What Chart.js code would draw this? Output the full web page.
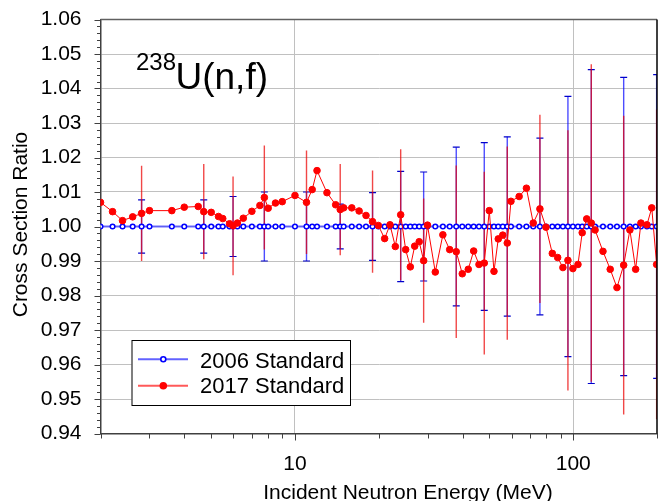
<!DOCTYPE html>
<html>
<head>
<meta charset="utf-8">
<script src="https://cdn.jsdelivr.net/npm/chart.js@4"></script>
<style>
html,body{margin:0;padding:0;background:#fff;}
canvas{display:block;}
</style>
</head>
<body>
<canvas id="c" width="659" height="501"></canvas>
<script>
// ---- data ----
const energies = [2.00, 2.21, 2.40, 2.61, 2.81, 3.00, 3.61, 4.00, 4.49, 4.70,
  5.00, 5.31, 5.50, 5.82, 5.99, 6.21, 6.52, 7.00, 7.48, 7.76,
  8.01, 8.51, 9.00, 10.0, 11.0, 11.53, 12.0, 13.03, 14.0, 14.54,
  14.96, 16.0, 17.0, 18.0, 19.0, 19.93, 21.0, 21.95, 22.94, 23.98,
  24.99, 25.97, 26.93, 27.95, 29.0, 29.93, 31.93, 34.0, 35.97, 37.98,
  39.92, 41.95, 43.87, 45.84, 47.89, 49.92, 51.9, 53.77, 55.81, 57.93,
  59.73, 63.91, 67.88, 71.82, 75.9, 79.8, 84.1, 87.9, 91.8, 95.7,
  99.7, 104.0, 107.7, 111.8, 116.1, 119.8, 127.9, 135.8, 143.6, 151.8,
  159.8, 167.6, 175.1, 184.0, 191.5, 199.4];

const ratio2017 = [1.0070, 1.0043, 1.0017, 1.0028, 1.0038, 1.0046, 1.0046, 1.0056, 1.0058, 1.0043,
  1.0041, 1.0029, 1.0023, 1.0008, 1.0002, 1.0010, 1.0024, 1.0044, 1.0061, 1.0084,
  1.0053, 1.0068, 1.0072, 1.0090, 1.0070, 1.0107, 1.0162, 1.0098, 1.0063, 1.0049,
  1.0054, 1.0054, 1.0045, 1.0032, 1.0014, 1.0003, 0.9965, 1.0005, 0.9942, 1.0034,
  0.9933, 0.9883, 0.9943, 0.9956, 0.9901, 1.0004, 0.9868, 0.9976, 0.9933, 0.9927,
  0.9863, 0.9876, 0.9929, 0.9890, 0.9894, 1.0046, 0.9870, 0.9964, 0.9975, 0.9952,
  1.0073, 1.0087, 1.0111, 1.0010, 1.0051, 0.9998, 0.9922, 0.9910, 0.9881, 0.9902,
  0.9878, 0.9890, 0.9982, 1.0022, 1.0010, 0.9990, 0.9928, 0.9876, 0.9823, 0.9888,
  0.9990, 0.9876, 1.0010, 1.0005, 1.0054, 0.9890];

const ratio2006 = [1.000, 1.000, 1.000, 1.000, 1.000, 1.000, 1.000, 1.000, 1.000, 1.000,
  1.000, 1.000, 1.000, 1.000, 1.000, 1.000, 1.000, 1.000, 1.000, 1.000,
  1.000, 1.000, 1.000, 1.000, 1.000, 1.000, 1.000, 1.000, 1.000, 1.000,
  1.000, 1.000, 1.000, 1.000, 1.000, 1.000, 1.000, 1.000, 1.000, 1.000,
  1.000, 1.000, 1.000, 1.000, 1.000, 1.000, 1.000, 1.000, 1.000, 1.000,
  1.000, 1.000, 1.000, 1.000, 1.000, 1.000, 1.000, 1.000, 1.000, 1.000,
  1.000, 1.000, 1.000, 1.000, 1.000, 1.000, 1.000, 1.000, 1.000, 1.000,
  1.000, 1.000, 1.000, 1.000, 1.000, 1.000, 1.000, 1.000, 1.000, 1.000,
  1.000, 1.000, 1.000, 1.000, 1.000, 1.000];

// points (0-based index into energies) that carry error bars
const errorPointIndex = [4, 9, 14, 19, 24, 29, 34, 39, 44, 49, 54, 59, 64, 69, 74, 79, 85];
const error2017 = [0.0138, 0.0138, 0.0143, 0.0151, 0.0150, 0.0132, 0.0148, 0.0190, 0.0180, 0.0250,
  0.0265, 0.0280, 0.0273, 0.0377, 0.0460, 0.0433, 0.0449];
const error2006 = [0.0077, 0.0077, 0.0087, 0.0100, 0.0100, 0.0065, 0.0098, 0.0160, 0.0158, 0.0230,
  0.0243, 0.0260, 0.0256, 0.0377, 0.0455, 0.0432, 0.0440];

const xTickValues = [2, 3, 4, 5, 6, 7, 8, 9, 10, 20, 30, 40, 50, 60, 70, 80, 90, 100, 200];
const xLabeledTicks = [10, 100];
const yTickValues = [0.94, 0.95, 0.96, 0.97, 0.98, 0.99, 1.00, 1.01, 1.02, 1.03, 1.04, 1.05, 1.06];

const seriesNames = ['2006 Standard', '2017 Standard'];
const titleMass = '238';
const titleReaction = 'U(n,f)';
const xTitle = 'Incident Neutron Energy (MeV)';
const yTitle = 'Cross Section Ratio';

// ---- styling ----
const FONT = '"Liberation Sans", Arial, Helvetica, sans-serif';
const BLUE = '#0000ff';
const RED = '#ff0000';

const pts2006 = energies.map((e, i) => ({x: e, y: ratio2006[i]}));
const pts2017 = energies.map((e, i) => ({x: e, y: ratio2017[i]}));

const customPlugin = {
  id: 'custom',
  beforeDatasetsDraw(chart) {
    const ctx = chart.ctx, xs = chart.scales.x, ys = chart.scales.y, a = chart.chartArea;
    ctx.save();
    ctx.beginPath();
    ctx.rect(a.left, a.top, a.right - a.left, a.bottom - a.top);
    ctx.clip();
    // 2006 error bars (with caps)
    errorPointIndex.forEach((idx, k) => {
      const px = xs.getPixelForValue(energies[idx]);
      const c = ratio2006[idx], e = error2006[k];
      const yt = ys.getPixelForValue(c + e), yb = ys.getPixelForValue(c - e);
      ctx.strokeStyle = 'rgba(0,0,255,0.7)';
      ctx.lineWidth = 1.4;
      ctx.beginPath(); ctx.moveTo(px, yt); ctx.lineTo(px, yb); ctx.stroke();
      ctx.strokeStyle = '#0000cc';
      ctx.lineWidth = 1.2;
      ctx.beginPath();
      ctx.moveTo(px - 3.5, yt); ctx.lineTo(px + 3.5, yt);
      ctx.moveTo(px - 3.5, yb); ctx.lineTo(px + 3.5, yb);
      ctx.stroke();
    });
    // 2017 error bars (no caps)
    errorPointIndex.forEach((idx, k) => {
      const px = xs.getPixelForValue(energies[idx]);
      const c = ratio2017[idx], e = error2017[k];
      const yt = ys.getPixelForValue(c + e), yb = ys.getPixelForValue(c - e);
      ctx.strokeStyle = 'rgba(235,0,0,0.72)';
      ctx.lineWidth = 1.4;
      ctx.beginPath(); ctx.moveTo(px, yt); ctx.lineTo(px, yb); ctx.stroke();
    });
    ctx.restore();
  },
  afterDraw(chart) {
    const ctx = chart.ctx, xs = chart.scales.x, ys = chart.scales.y, a = chart.chartArea;
    ctx.save();
    // frame top / right
    ctx.strokeStyle = '#606060';
    ctx.lineWidth = 1.5;
    ctx.beginPath(); ctx.moveTo(a.left, a.top); ctx.lineTo(a.right, a.top); ctx.stroke();
    ctx.strokeStyle = '#000000';
    ctx.beginPath(); ctx.moveTo(a.right, a.top); ctx.lineTo(a.right, a.bottom); ctx.stroke();

    // y tick marks (major + minor)
    ctx.strokeStyle = '#404040';
    ctx.lineWidth = 1;
    ctx.beginPath();
    for (let i = 0; i <= 60; i++) {
      const v = 0.94 + i * 0.002;
      const py = Math.round(ys.getPixelForValue(v)) + 0.5;
      const len = (i % 5 === 0) ? 6 : 3.5;
      ctx.moveTo(a.left - len, py); ctx.lineTo(a.left, py);
    }
    ctx.stroke();
    // x tick marks
    ctx.beginPath();
    xTickValues.forEach(v => {
      const px = Math.round(xs.getPixelForValue(v)) + 0.5;
      const len = xLabeledTicks.includes(v) ? 7 : 5;
      ctx.moveTo(px, a.bottom); ctx.lineTo(px, a.bottom + len);
    });
    ctx.stroke();

    // plot title 238U(n,f)
    ctx.fillStyle = '#000';
    ctx.textAlign = 'left';
    ctx.textBaseline = 'alphabetic';
    ctx.font = '24px ' + FONT;
    ctx.fillText(titleMass, 136, 70);
    ctx.font = '37px ' + FONT;
    ctx.fillText(titleReaction, 175.5, 89);

    // axis titles
    ctx.font = '21px ' + FONT;
    ctx.textAlign = 'center';
    ctx.fillText(xTitle, 408, 498.5);
    ctx.save();
    ctx.translate(21.5, 224.5);
    ctx.rotate(-Math.PI / 2);
    ctx.textBaseline = 'middle';
    ctx.fillText(yTitle, 0, 0);
    ctx.restore();

    // legend
    const lx = 131.5, ly = 340, lw = 218.5, lh = 65;
    ctx.fillStyle = '#fff';
    ctx.fillRect(lx, ly, lw, lh);
    ctx.strokeStyle = '#000';
    ctx.lineWidth = 1;
    ctx.strokeRect(lx + 0.5, ly + 0.5, lw, lh);
    const rows = [359.3, 385.7];
    // row 1: 2006
    ctx.strokeStyle = 'rgba(70,70,255,0.85)';
    ctx.lineWidth = 2;
    ctx.beginPath(); ctx.moveTo(138, rows[0]); ctx.lineTo(188, rows[0]); ctx.stroke();
    ctx.beginPath(); ctx.arc(163.3, rows[0], 2.5, 0, Math.PI * 2);
    ctx.fillStyle = '#fff'; ctx.fill();
    ctx.strokeStyle = BLUE; ctx.lineWidth = 1.6; ctx.stroke();
    // row 2: 2017
    ctx.strokeStyle = 'rgba(255,60,60,0.85)';
    ctx.lineWidth = 2;
    ctx.beginPath(); ctx.moveTo(138, rows[1]); ctx.lineTo(188, rows[1]); ctx.stroke();
    ctx.beginPath(); ctx.arc(163.3, rows[1], 3.8, 0, Math.PI * 2);
    ctx.fillStyle = RED; ctx.fill();
    ctx.fillStyle = '#000';
    ctx.font = '22px ' + FONT;
    ctx.textAlign = 'left';
    ctx.textBaseline = 'alphabetic';
    ctx.fillText(seriesNames[0], 200, 368.3);
    ctx.fillText(seriesNames[1], 200, 393.3);
    ctx.restore();
  }
};

new Chart(document.getElementById('c'), {
  type: 'line',
  data: {
    datasets: [
      {
        label: seriesNames[0],
        data: pts2006,
        order: 2,
        borderColor: 'rgba(70,70,255,0.8)',
        borderWidth: 2,
        pointRadius: 2.3,
        pointHoverRadius: 2.3,
        pointBorderWidth: 1.5,
        pointBorderColor: BLUE,
        pointBackgroundColor: '#ffffff',
        tension: 0
      },
      {
        label: seriesNames[1],
        data: pts2017,
        order: 1,
        borderColor: RED,
        borderWidth: 1,
        pointRadius: 3.3,
        pointHoverRadius: 3.3,
        pointBorderWidth: 1,
        pointBorderColor: RED,
        pointBackgroundColor: RED,
        tension: 0
      }
    ]
  },
  options: {
    responsive: false,
    animation: false,
    devicePixelRatio: 1,
    events: [],
    layout: {autoPadding: false, padding: {top: 19.5, right: 2, left: 0, bottom: 0}},
    plugins: {legend: {display: false}, tooltip: {enabled: false}, title: {display: false}},
    scales: {
      x: {
        type: 'logarithmic',
        min: 2, max: 200,
        afterBuildTicks: s => { s.ticks = xTickValues.map(v => ({value: v})); },
        afterFit: s => { s.height = 67.5; s.paddingLeft = 0; s.paddingRight = 0; s.paddingTop = 0; s.paddingBottom = 0; },
        ticks: {
          autoSkip: false, maxRotation: 0, minRotation: 0,
          padding: 18,
          color: '#000',
          font: {family: FONT, size: 21},
          callback: v => xLabeledTicks.includes(v) ? String(v) : ''
        },
        grid: {
          drawTicks: false,
          color: c => (c.tick && xLabeledTicks.includes(c.tick.value)) ? '#c0c0c0' : 'rgba(0,0,0,0)',
          lineWidth: 1
        },
        border: {display: true, color: '#404040', width: 1.5}
      },
      y: {
        type: 'linear',
        min: 0.94, max: 1.06,
        afterBuildTicks: s => { s.ticks = yTickValues.map(v => ({value: v})); },
        afterFit: s => { s.width = 100.5; s.paddingLeft = 0; s.paddingRight = 0; s.paddingTop = 0; s.paddingBottom = 0; },
        ticks: {
          padding: 19,
          color: '#000',
          font: {family: FONT, size: 21},
          callback: v => Number(v).toFixed(2)
        },
        grid: {drawTicks: false, color: '#c0c0c0', lineWidth: 1},
        border: {display: true, color: '#404040', width: 1.5}
      }
    }
  },
  plugins: [customPlugin]
});
</script>
</body>
</html>
